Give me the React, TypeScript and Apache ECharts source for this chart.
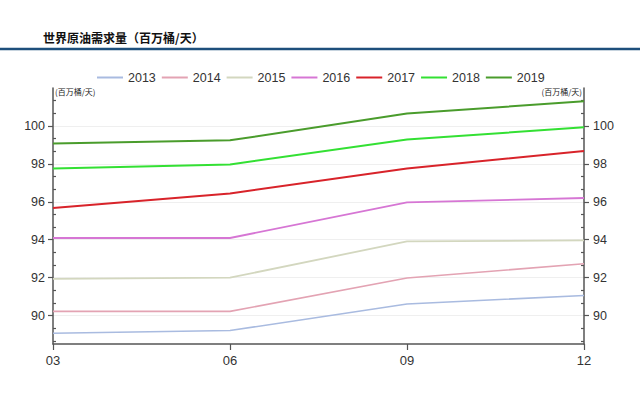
import React, { useEffect, useRef } from "react";
import * as echarts from "echarts";

// ---- data ----
const categories = ["03", "06", "09", "12"];
const years = ["2013", "2014", "2015", "2016", "2017", "2018", "2019"];
const s2013 = [89.07, 89.21, 90.61, 91.06];
const s2014 = [90.22, 90.22, 91.98, 92.73];
const s2015 = [91.93, 92.0, 93.91, 93.96];
const s2016 = [94.09, 94.09, 95.97, 96.2];
const s2017 = [95.67, 96.44, 97.75, 98.68];
const s2018 = [97.75, 97.97, 99.28, 99.93];
const s2019 = [99.07, 99.24, 100.65, 101.3];
const seriesValues = [s2013, s2014, s2015, s2016, s2017, s2018, s2019];
const colors = ["#a9bbe0", "#e3a3b3", "#d3d7bf", "#d676d4", "#d8232a", "#33e033", "#4a9c2c"];
const lineWidths = [1.6, 1.6, 1.8, 1.8, 2, 2, 2];

const majorTicks = [90, 92, 94, 96, 98, 100];
const minorTicks = [
  88.667, 89.333, 90.667, 91.333, 92.667, 93.333, 94.667, 95.333,
  96.667, 97.333, 98.667, 99.333, 100.667, 101.333,
];
const yMin = 88.5;
const yMax = 102;

const title = "世界原油需求量（百万桶/天）";
const unitLabel = "(百万桶/天)";

const FONT = "Liberation Sans, Arial, sans-serif";
const CJK = "Noto Sans CJK SC, sans-serif";
const AXIS = "#555555";

export default function App() {
  const ref = useRef<HTMLDivElement>(null);

  useEffect(() => {
    if (!ref.current) return;
    const chart = echarts.init(ref.current, undefined, { renderer: "svg" });

    const majorAxis = (position: "left" | "right") => ({
      type: "value",
      position,
      min: yMin,
      max: yMax,
      axisLine: { show: true, lineStyle: { color: AXIS, width: 1.5 } },
      axisTick: {
        show: true,
        inside: false,
        length: 5,
        customValues: majorTicks,
        lineStyle: { color: AXIS, width: 1.2 },
      },
      axisLabel: {
        customValues: majorTicks,
        margin: position === "left" ? 8 : 9,
        color: "#333",
        fontSize: 12.5,
        fontFamily: FONT,
      },
      splitLine: { show: position === "left", lineStyle: { color: "#efefef", width: 1 } },
    });
    const minorAxis = (position: "left" | "right") => ({
      type: "value",
      position,
      min: yMin,
      max: yMax,
      axisLine: { show: false },
      axisTick: {
        show: true,
        inside: true,
        length: 3,
        customValues: minorTicks,
        lineStyle: { color: AXIS, width: 1.2 },
      },
      axisLabel: { show: false },
      splitLine: { show: false },
    });

    chart.setOption({
      animation: false,
      backgroundColor: "#ffffff",
      grid: { left: 53, right: 56, top: 88, bottom: 56 },
      legend: {
        data: years,
        left: 92,
        top: 66,
        icon: "rect",
        itemWidth: 26,
        itemHeight: 2,
        itemGap: 6,
        textStyle: { color: "#333", fontSize: 12.5, fontFamily: FONT },
      },
      xAxis: {
        type: "category",
        data: categories,
        boundaryGap: false,
        axisLine: { show: true, lineStyle: { color: AXIS, width: 1.5 } },
        axisTick: { show: true, length: 6, lineStyle: { color: AXIS, width: 1.2 } },
        axisLabel: { margin: 10, color: "#333", fontSize: 13, fontFamily: FONT },
        splitLine: { show: false },
      },
      yAxis: [majorAxis("left"), minorAxis("left"), majorAxis("right"), minorAxis("right")],
      series: years.map((y, i) => ({
        name: y,
        type: "line",
        data: seriesValues[i],
        yAxisIndex: 0,
        symbol: "none",
        showSymbol: false,
        color: colors[i],
        lineStyle: { color: colors[i], width: lineWidths[i] },
        emphasis: { disabled: true },
        silent: true,
      })),
      graphic: [
        {
          type: "text",
          left: 43,
          top: 31,
          style: { text: title, fontSize: 12, fontWeight: "bold", fill: "#111", fontFamily: CJK },
        },
        {
          type: "rect",
          shape: { x: 0, y: 47.7, width: 640, height: 2.6 },
          style: { fill: "#1d4f7c" },
        },
        {
          type: "text",
          x: 55,
          y: 91,
          style: {
            text: unitLabel,
            fontSize: 8,
            fill: "#222",
            fontFamily: CJK,
            align: "left",
            verticalAlign: "middle",
          },
        },
        {
          type: "text",
          x: 582,
          y: 91.5,
          style: {
            text: unitLabel,
            fontSize: 8,
            fill: "#222",
            fontFamily: CJK,
            align: "right",
            verticalAlign: "middle",
          },
        },
      ],
    });

    return () => chart.dispose();
  }, []);

  return (
    <div
      ref={ref}
      style={{ position: "fixed", left: 0, top: 0, width: 640, height: 400, background: "#fff" }}
    />
  );
}
